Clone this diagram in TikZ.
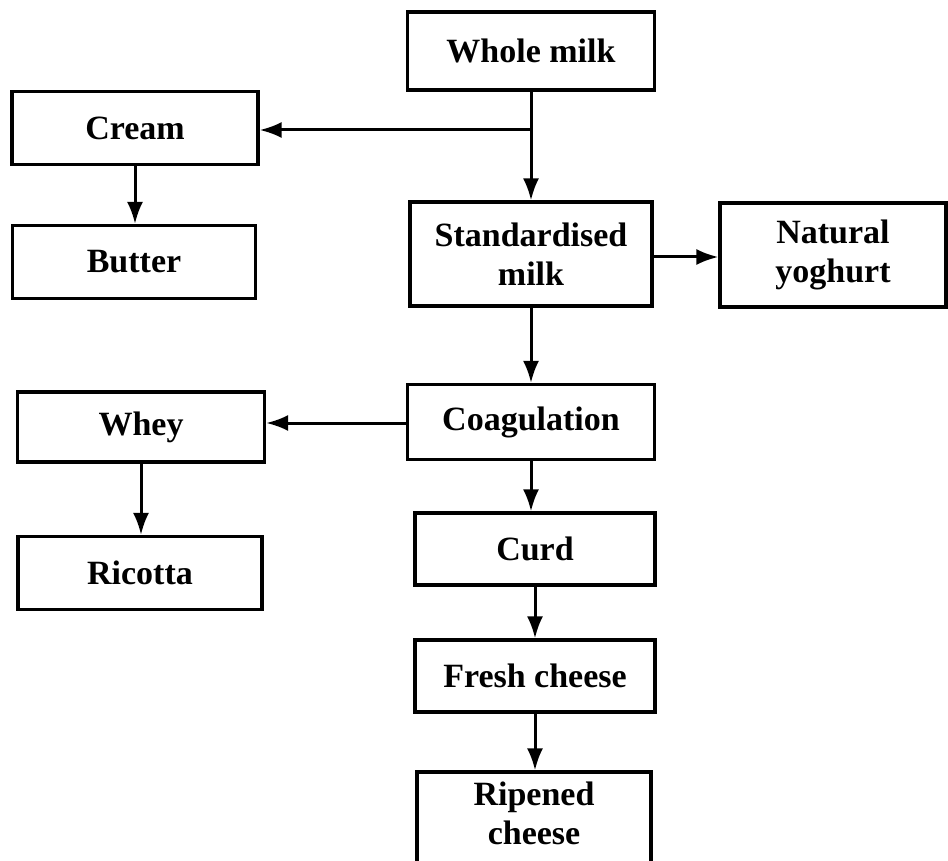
\documentclass[tikz,border=0pt]{standalone}
\usepackage{fontspec}
\setmainfont{Liberation Serif}
\usetikzlibrary{arrows.meta}
\begin{document}
\begin{tikzpicture}[x=1pt,y=-1pt,
  boxtext/.style={inner sep=0pt,align=center,font=\fontsize{34}{39}\selectfont\bfseries},
  box/.style={boxtext,draw,line width=3.2pt,minimum width=#1},
  box/.default=245pt,
  flow/.style={line width=3pt,-{Latex[length=22pt,width=16pt]}}]
\clip (0,0) rectangle (948,861);
\fill[white] (0,0) rectangle (948,861);
\node[box=247pt,minimum height=78pt] (wm) at (531,51) {Whole milk};
\node[box=246pt,minimum height=73pt] (cream) at (135,128) {Cream};
\node[box=243pt,minimum height=73pt] (butter) at (134,262) {Butter};
\node[box=242pt,minimum height=104pt] (std) at (531,254) {Standardised\\milk};
\node[box=226pt,minimum height=104pt] (yog) at (833,255) {Natural\\yoghurt};
\node[box=247pt,minimum height=75pt] (coag) at (531,422) {Coagulation};
\node[box=247pt,minimum height=70pt] (whey) at (141,427) {Whey};
\node[box=244pt,minimum height=73pt] (ric) at (140,573) {Ricotta};
\node[box=240pt,minimum height=72pt] (curd) at (535,549) {Curd};
\node[box=240pt,minimum height=72pt] (fresh) at (535,676) {Fresh cheese};
\node[box=234pt,minimum height=110pt] (rip) at (534,827) {};
\node[boxtext] (riptext) at (534,813) {Ripened\\cheese};
\coordinate (br) at (wm.south |- 0,130);
\draw[flow] (wm.south) -- (std.north);
\draw[flow] (br) -- (cream.east |- br);
\draw[flow] (cream.south) -- (butter.north -| cream.south);
\draw[flow] (std.east |- 0,257) -- (yog.west |- 0,257);
\draw[flow] (std.south) -- (coag.north -| std.south);
\draw[flow] (coag.west |- 0,423) -- (whey.east |- 0,423);
\draw[flow] (whey.south) -- (ric.north -| whey.south);
\draw[flow] (coag.south) -- (curd.north -| coag.south);
\draw[flow] (curd.south) -- (fresh.north -| curd.south);
\draw[flow] (fresh.south) -- (rip.north -| fresh.south);
\end{tikzpicture}
\end{document}
